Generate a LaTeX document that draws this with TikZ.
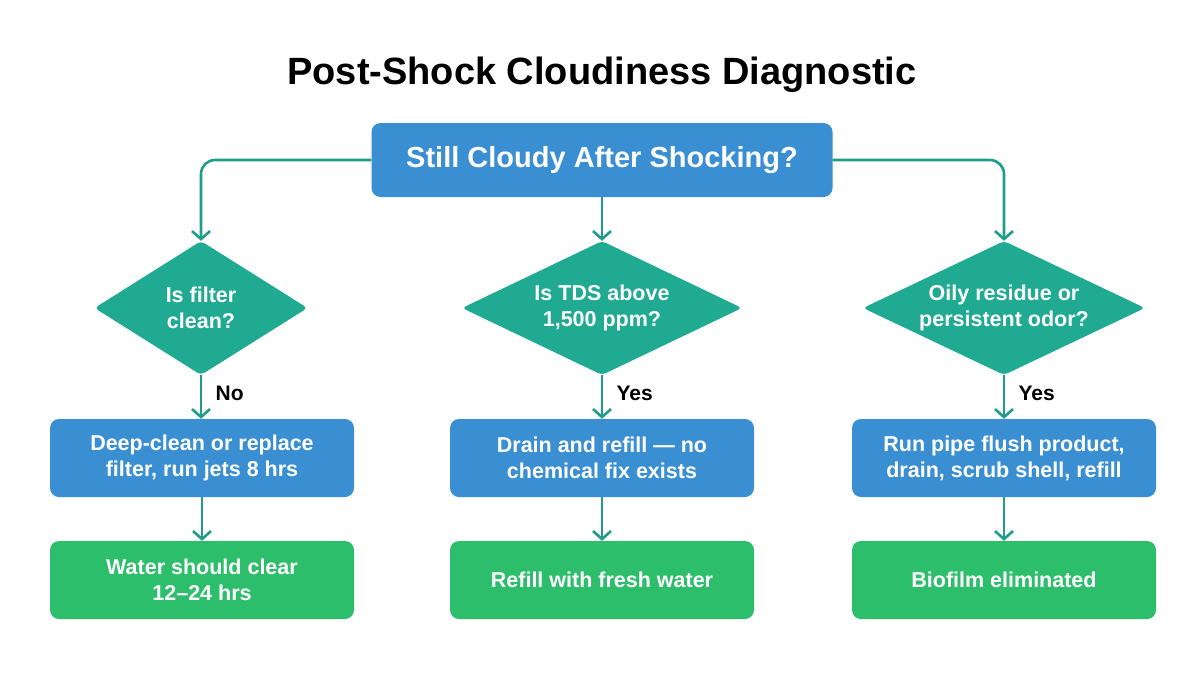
\documentclass[tikz,border=0pt]{standalone}
\usepackage{fontspec}
\setmainfont{Liberation Sans}
\usetikzlibrary{shapes.geometric,arrows.meta}
\definecolor{boxblue}{HTML}{3A8FD2}
\definecolor{diateal}{HTML}{20AA92}
\definecolor{boxgreen}{HTML}{2DBE6C}
\definecolor{linkteal}{HTML}{1E9E8A}
\begin{document}
\begin{tikzpicture}[x=1pt,y=-1pt,
  every node/.style={font=\bfseries},
  bluebox/.style={draw=none,fill=boxblue,rounded corners=9pt,text=white,align=center,minimum width=304pt,minimum height=78pt,font=\fontsize{21.5}{26}\selectfont\bfseries},
  greenbox/.style={bluebox,fill=boxgreen},
  question/.style={diamond,fill=diateal,text=white,align=center,inner sep=0pt,rounded corners=4pt,minimum height=134pt,font=\fontsize{21.5}{26}\selectfont\bfseries},
  link/.style={draw=linkteal,line width=2.6pt,-{Straight Barb[length=8pt,width=18pt,line width=2.6pt]},rounded corners=14pt},
  lab/.style={font=\fontsize{21}{24}\selectfont\bfseries,text=black,anchor=west}
]
\useasboundingbox (0,0) rectangle (1204,672);
\fill[white] (0,0) rectangle (1204,672);
\node (title) at (602,75) {\fontsize{38}{43}\selectfont\bfseries Post-Shock Cloudiness Diagnostic};
\node[bluebox,minimum width=461pt,minimum height=74pt,font=\fontsize{29}{34}\selectfont\bfseries] (top) at (602,160) {Still Cloudy After Shocking?};

\node[question,minimum width=213pt,aspect=1.59] (q1) at (201,308) {Is filter\\clean?};
\node[question,minimum width=280pt,aspect=2.09] (q2) at (602,308) {Is TDS above\\1,500 ppm?};
\node[question,minimum width=282pt,aspect=2.1] (q3) at (1004,308) {Oily residue or\\persistent odor?};

\node[bluebox] (a1) at (202,458) {Deep-clean or replace\\filter, run jets 8 hrs};
\node[bluebox] (a2) at (602,458) {Drain and refill — no\\chemical fix exists};
\node[bluebox] (a3) at (1004,458) {Run pipe flush product,\\drain, scrub shell, refill};

\node[greenbox] (r1) at (202,580) {Water should clear\\12–24 hrs};
\node[greenbox] (r2) at (602,580) {Refill with fresh water};
\node[greenbox] (r3) at (1004,580) {Biofilm eliminated};

\draw[link] (top.west) -| (q1.north);
\draw[link] (top.south) -- (q2.north);
\draw[link] (top.east) -| (q3.north);

\draw[link] (q1.south) -- (q1.south |- a1.north) node[lab,midway,xshift=10pt,yshift=4pt] (l1) {No};
\draw[link] (q2.south) -- (a2.north) node[lab,midway,xshift=10pt,yshift=4pt] (l2) {Yes};
\draw[link] (q3.south) -- (a3.north) node[lab,midway,xshift=10pt,yshift=4pt] (l3) {Yes};

\draw[link] (a1.south) -- (r1.north);
\draw[link] (a2.south) -- (r2.north);
\draw[link] (a3.south) -- (r3.north);
\end{tikzpicture}
\end{document}
